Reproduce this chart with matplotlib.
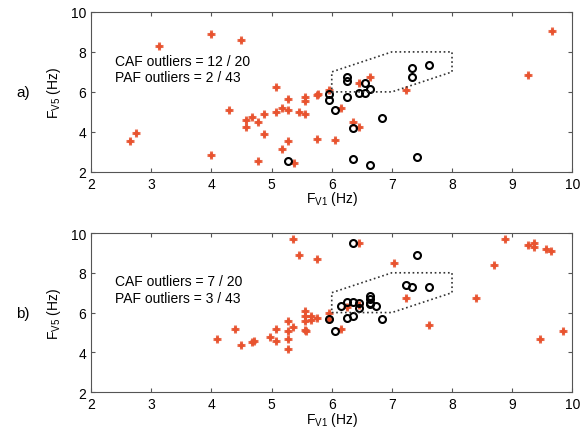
import numpy as np
import matplotlib
matplotlib.use('Agg')
import matplotlib.pyplot as plt

plt.rcParams['font.family'] = ['Liberation Sans', 'DejaVu Sans']

# panel a) PAF (red) and CAF (circles)
paf_a_x = [2.65, 2.74, 3.13, 4.0, 4.49, 4.29, 4.0, 4.58, 4.58, 4.68, 4.78, 4.88, 4.88, 4.78,
           5.07, 5.07, 5.17, 5.27, 5.27, 5.27, 5.17, 5.37, 5.45, 5.56, 5.56, 5.56, 5.75, 5.75,
           9.66, 9.27, 6.64, 6.45, 7.23, 5.77, 5.95, 6.15, 6.35, 6.45, 6.06]
paf_a_y = [3.52, 3.92, 8.3, 8.88, 8.58, 5.08, 2.83, 4.58, 4.25, 4.72, 4.5, 4.88, 3.9, 2.53,
           6.25, 5.0, 5.17, 5.65, 5.08, 3.52, 3.13, 2.45, 4.98, 5.75, 5.55, 4.88, 5.85, 3.62,
           9.05, 6.83, 6.75, 6.45, 6.08, 5.87, 6.08, 5.18, 4.5, 4.22, 3.6]
caf_a_x = [5.27, 7.61, 7.33, 7.33, 6.25, 6.25, 6.55, 6.64, 6.45, 6.55, 5.96, 5.96, 6.25,
           6.06, 6.83, 6.35, 6.35, 7.41, 6.64]
caf_a_y = [2.53, 7.32, 7.2, 6.72, 6.75, 6.55, 6.45, 6.15, 5.95, 5.95, 5.87, 5.58, 5.75,
           5.07, 4.68, 4.2, 2.63, 2.75, 2.35]

# panel b)
paf_b_x = [4.1, 4.39, 4.49, 4.68, 4.70, 4.97, 5.07, 5.07, 5.27, 5.27, 5.27, 5.27, 5.36,
           5.36, 5.45, 5.75, 5.56, 5.56, 5.56, 5.56, 5.58, 5.66, 5.66, 5.75,
           6.45, 8.88, 9.27, 9.37, 9.37, 9.56, 9.65, 8.69, 7.04, 8.4, 7.23, 7.61, 9.46, 9.85,
           6.25, 6.45, 6.15, 5.95, 5.95]
paf_b_y = [4.69, 5.18, 4.37, 4.5, 4.55, 4.77, 5.18, 4.57, 5.56, 5.08, 4.69, 4.18, 5.28,
           9.68, 8.91, 8.71, 6.08, 5.83, 5.58, 5.13, 5.08, 5.83, 5.63, 5.75,
           9.5, 9.68, 9.39, 9.49, 9.28, 9.19, 9.09, 8.4, 8.5, 6.74, 6.74, 5.36, 4.69, 5.06,
           6.27, 6.4, 5.16, 5.97, 5.66]
caf_b_x = [6.35, 7.41, 7.23, 7.33, 7.62, 6.64, 6.64, 6.64, 6.64, 6.74, 6.15, 6.25, 6.35,
           6.45, 6.45, 5.96, 6.25, 6.35, 6.06, 6.83]
caf_b_y = [9.5, 8.89, 7.41, 7.31, 7.31, 6.84, 6.67, 6.5, 6.41, 6.34, 6.34, 6.54, 6.54,
           6.47, 6.25, 5.66, 5.75, 5.83, 5.06, 5.66]

# normal-range region
region_x = [6, 7, 8, 8, 7, 6, 6]
region_y = [6, 6, 7, 8, 8, 7, 6]

panels = [
    ('a)', paf_a_x, paf_a_y, caf_a_x, caf_a_y, 'CAF outliers = 12 / 20\nPAF outliers = 2 / 43'),
    ('b)', paf_b_x, paf_b_y, caf_b_x, caf_b_y, 'CAF outliers = 7 / 20\nPAF outliers = 3 / 43'),
]

fig = plt.figure(figsize=(5.81, 4.31), dpi=100)
boxes = [[0.157, 0.599, 0.828, 0.371], [0.157, 0.088, 0.828, 0.369]]

for box, (tag, px, py, cx, cy, txt) in zip(boxes, panels):
    ax = fig.add_axes(box)
    # red PAF markers: thick plus with a small diamond core
    ax.plot(px, py, linestyle='none', marker='+', markersize=6, color='#e8532f',
            markeredgewidth=2.2, alpha=0.85)
    ax.plot(px, py, linestyle='none', marker='D', markersize=3.2, color='#e8532f',
            markeredgewidth=0)
    ax.plot(cx, cy, linestyle='none', marker='o', markersize=5, markerfacecolor='none',
            markeredgecolor='black', markeredgewidth=1.5)
    ax.plot(region_x, region_y, linestyle=':', color='#333333', linewidth=1.2)
    ax.set_xlim(2, 10)
    ax.set_ylim(2, 10)
    ax.set_xticks(range(2, 11))
    ax.set_yticks([2, 4, 6, 8, 10])
    ax.tick_params(direction='in', top=True, right=True, labelsize=10, length=3, color='#555555')
    for s in ax.spines.values():
        s.set_color('#555555')
    ax.text(2.4, 7.15, txt, fontsize=10, va='center', ha='left', linespacing=1.25)
    ax.set_xlabel('F$_{\\mathregular{V1}}$ (Hz)', fontsize=10, labelpad=-1)
    ax.set_ylabel('F$_{\\mathregular{V5}}$ (Hz)', fontsize=10, labelpad=6)
    ax.text(-0.156, 0.5, tag, transform=ax.transAxes, fontsize=11, va='center', ha='left')

fig.savefig('out.png', dpi=100)
